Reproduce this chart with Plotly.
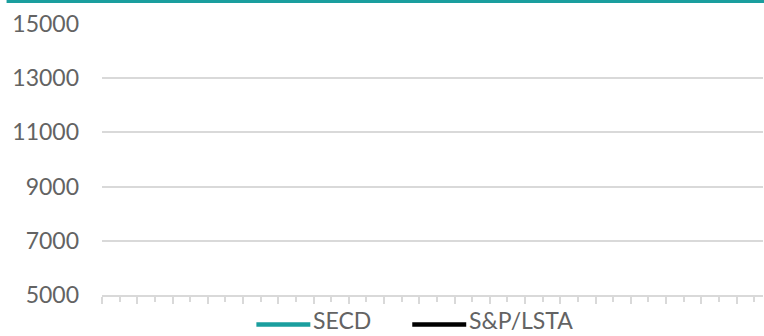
import plotly.graph_objects as go

# Monthly periods along the x axis (one tick per period)
periods = list(range(38))

# Index levels for the two series (no observations plotted)
secd_values = []
sp_lsta_values = []

series_names = ["SECD", "S&P/LSTA"]
series_colors = ["#1a9e9e", "#000000"]

y_ticks = [5000, 7000, 9000, 11000, 13000, 15000]

W, H = 764, 336
L, R, T, B = 101.5, 1, 24, 40.5
PW, PH = W - L - R, H - T - B

FONT = "Lato"
TEXT = "#636363"
GRID = "#d9d9d9"


def px_x(x):
    return (x - L) / PW


def px_y(y):
    return (H - B - y) / PH


fig = go.Figure()
for name, vals, col in zip(series_names, [secd_values, sp_lsta_values], series_colors):
    fig.add_trace(go.Scatter(
        x=periods[:len(vals)], y=vals, mode="lines", name=name,
        line=dict(color=col, width=4), showlegend=False,
    ))

shapes = [
    # accent bar along the top edge
    dict(type="rect", xref="paper", yref="paper",
         x0=px_x(6), x1=px_x(W + 2), y0=px_y(3), y1=px_y(-2),
         fillcolor="#1a9e9e", line=dict(width=0), layer="above"),
]
annotations = []

# legend keys
legend_x = [256, 412]
for (name, col), lx in zip(zip(series_names, series_colors), legend_x):
    shapes.append(dict(type="line", xref="paper", yref="paper",
                       x0=px_x(lx), x1=px_x(lx + 54), y0=px_y(325), y1=px_y(325),
                       line=dict(color=col, width=4.5)))
    annotations.append(dict(xref="paper", yref="paper", x=px_x(lx + 56), y=px_y(336),
                            text=name, showarrow=False, xanchor="left", yanchor="bottom",
                            borderpad=0,
                            font=dict(family=FONT, size=23, color=TEXT)))

fig.update_layout(
    width=W, height=H,
    margin=dict(l=L, r=R, t=T, b=B),
    paper_bgcolor="white", plot_bgcolor="white",
    showlegend=False,
    shapes=shapes, annotations=annotations,
    font=dict(family=FONT, size=23, color=TEXT),
    xaxis=dict(
        range=[0, 37.5], showgrid=False, zeroline=False,
        showline=True, linecolor=GRID, linewidth=1.5,
        ticks="outside", tick0=0, dtick=2, ticklen=7, tickwidth=1.5, tickcolor=GRID,
        minor=dict(ticks="outside", dtick=1, ticklen=5, tickwidth=1.5, tickcolor=GRID),
        showticklabels=False, fixedrange=True,
    ),
    yaxis=dict(
        range=[5000, 15000], tickvals=y_ticks, ticktext=[str(v) for v in y_ticks],
        showgrid=True, gridcolor=GRID, gridwidth=1.5, zeroline=False,
        showline=False, ticks="", ticklabelstandoff=22,
        tickfont=dict(family=FONT, size=23, color=TEXT), fixedrange=True,
    ),
)

fig.write_html("out.html")
